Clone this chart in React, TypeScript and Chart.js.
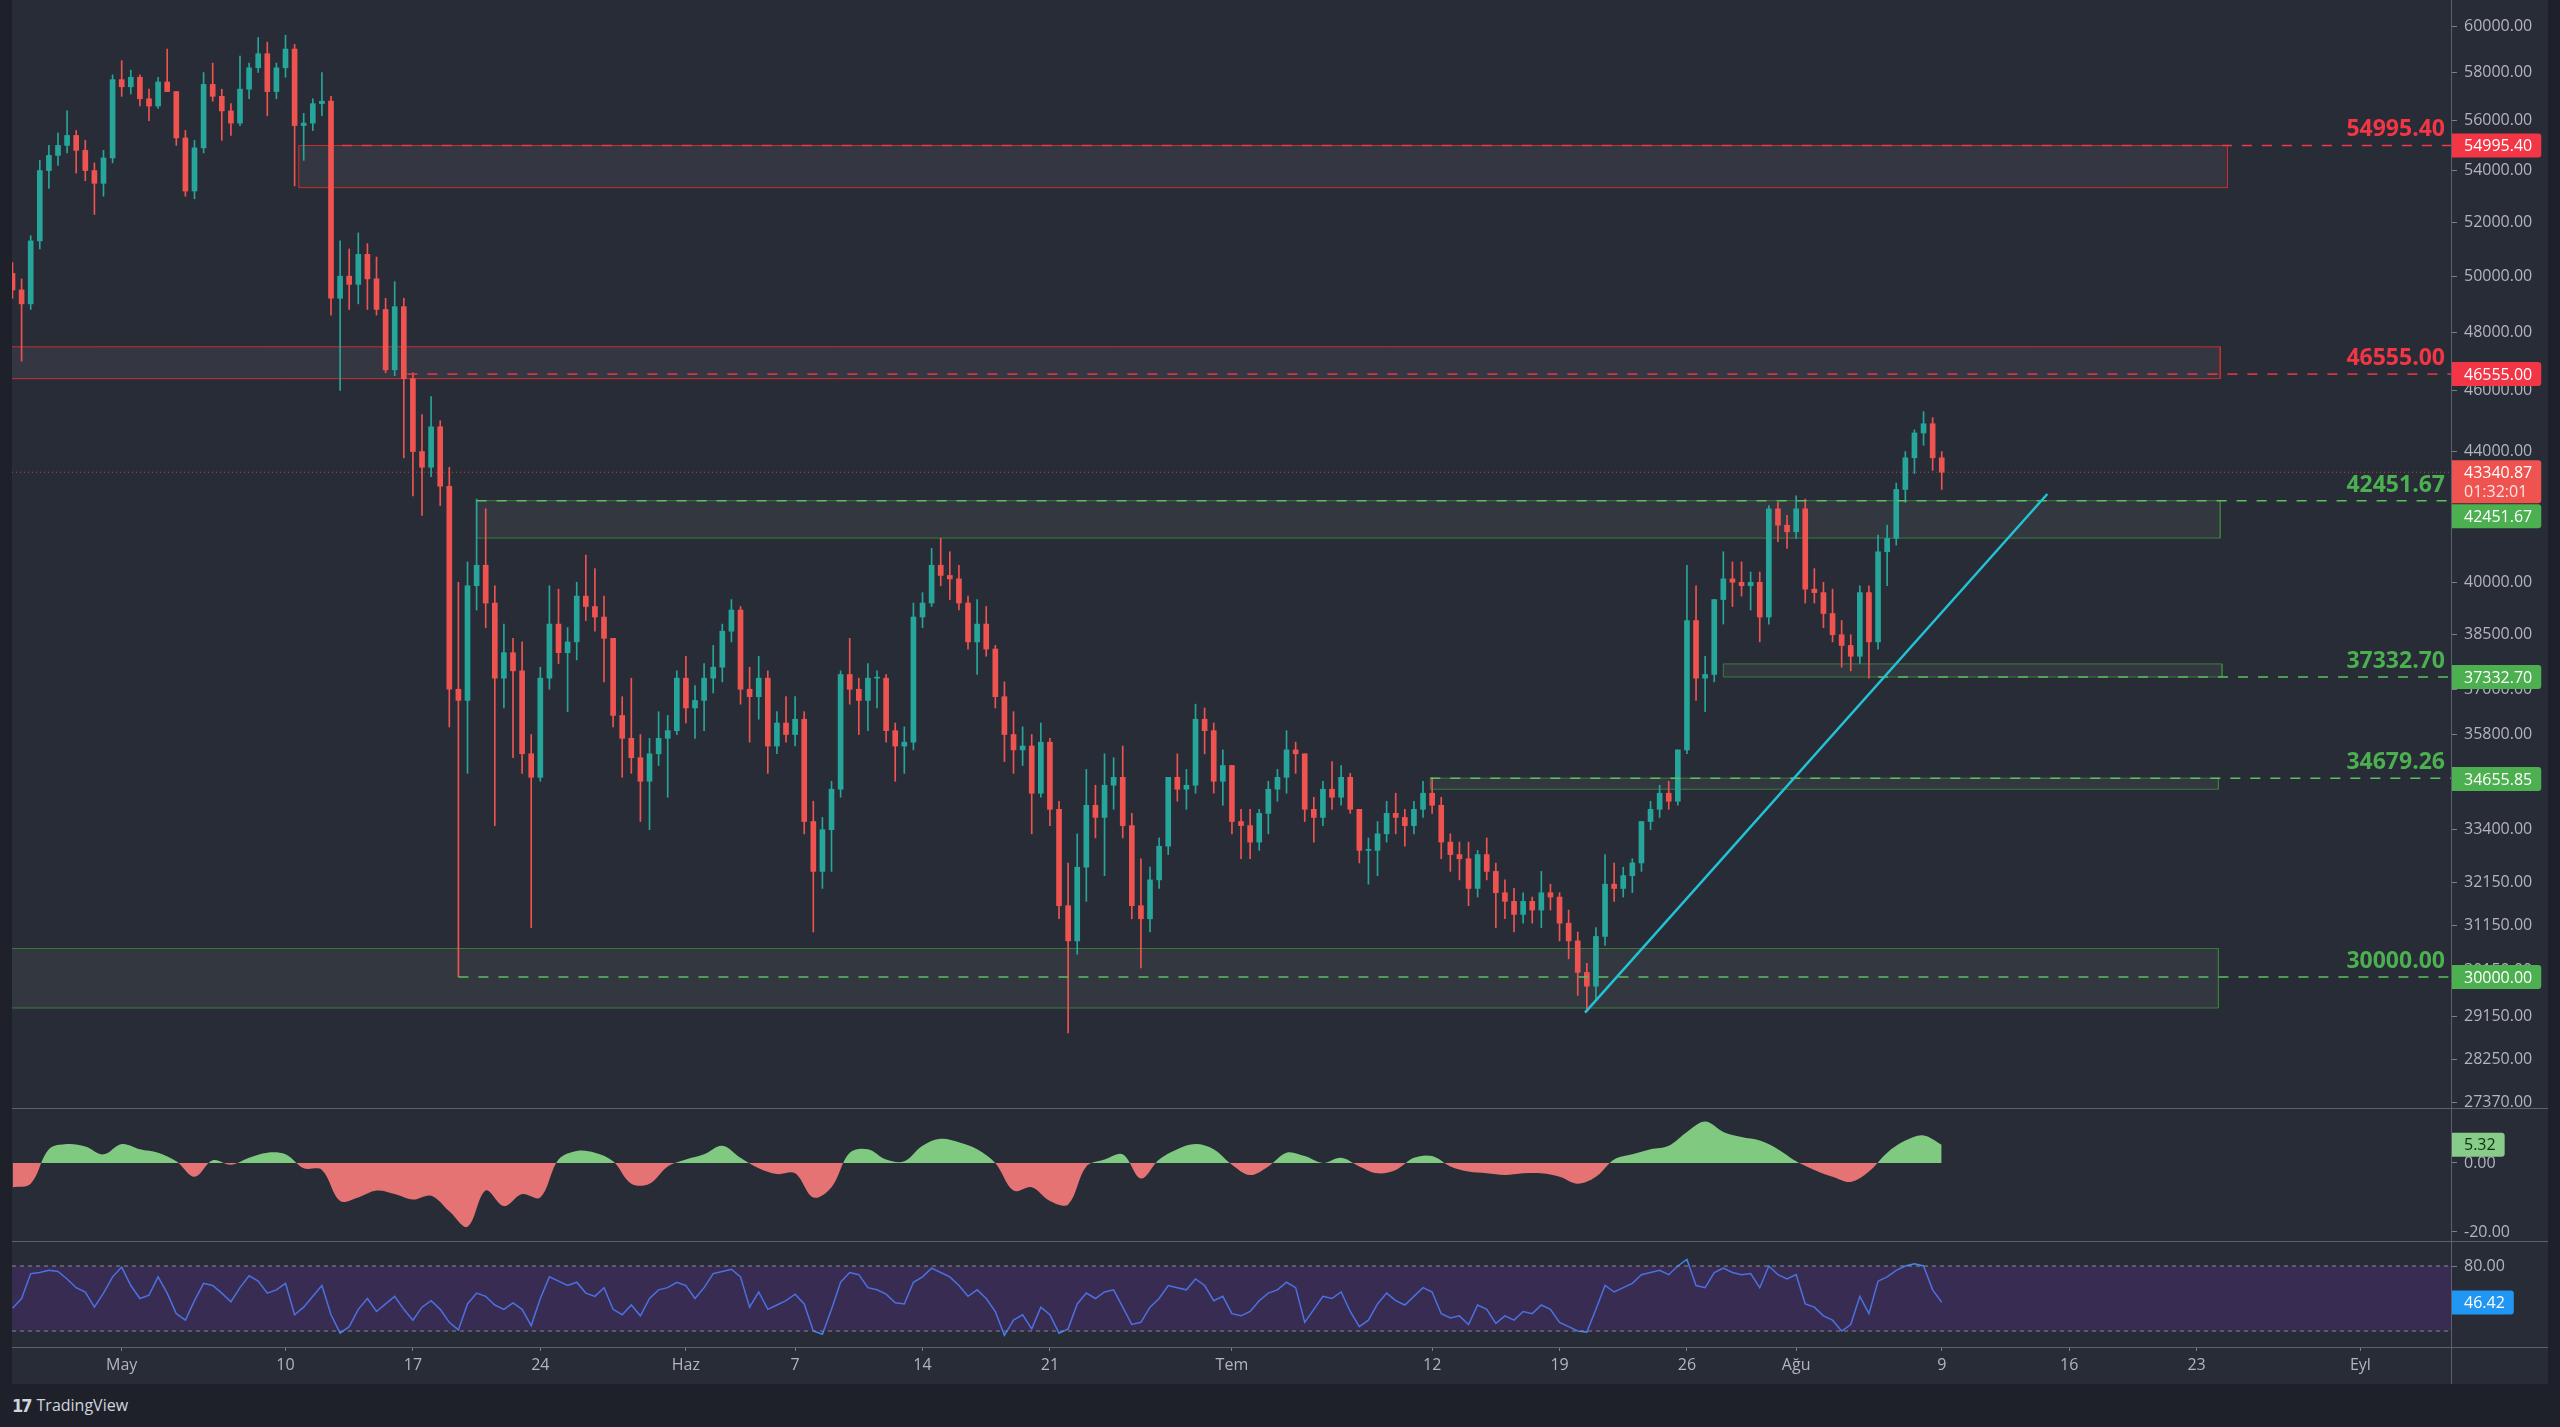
import React, { useEffect, useRef } from "react";
import { Chart, registerables } from "chart.js";

Chart.register(...registerables);

const FONT = "'Open Sans', 'Noto Sans', sans-serif";
Chart.defaults.font.family = FONT;

// ================= DATA =================
// Time unit: days relative to 1 May 2021 (0 = May 1). Bars are 12-hour candles from 25 Apr.
const FIRST_BAR_DAY = -6;
const BAR_STEP_DAYS = 0.5;

const OPENS = [
  50100, 49500, 49000, 51300, 54000, 54600, 55000, 55400, 54800, 54000, 53500, 54500,
  57700, 57400, 57800, 56900, 56600, 57600, 57200, 55300, 53200, 54900, 57500, 57000,
  56400, 55900, 57300, 58200, 58800, 57200, 58200, 59000, 55800, 55900, 56700, 56800,
  49200, 50000, 49700, 50800, 49900, 48800, 46700, 48900, 46400, 44000, 43500, 44800,
  42900, 37000, 36700, 39900, 40500, 39400, 37300, 38000, 37500, 35300, 34700, 37300,
  38800, 38000, 38300, 39600, 39300, 39000, 38400, 36300, 35700, 35200, 34600, 35300,
  35700, 35900, 37300, 36500, 36700, 37300, 37600, 38600, 39200, 37000, 36800, 37300,
  35500, 36100, 35800, 36200, 33600, 32400, 33400, 34400, 37400, 37000, 36700, 37300,
  37300, 35900, 35500, 35600, 39000, 39400, 40500, 40200, 40100, 39400, 38300, 38800,
  38100, 36800, 35800, 35400, 35500, 34300, 35600, 33900, 31600, 30800, 32500, 34000,
  33700, 34500, 34700, 33500, 31600, 31300, 32200, 33000, 34700, 34400, 34500, 36200,
  35900, 34600, 35000, 33600, 33500, 33100, 33800, 34400, 34700, 35400, 35300, 33900,
  33700, 34400, 34200, 34700, 33900, 32900, 32900, 33300, 33800, 33700, 33500, 33900,
  34300, 34000, 33100, 32800, 32700, 32000, 32800, 32400, 31900, 31700, 31400, 31700,
  31500, 31900, 31800, 31200, 30800, 30100, 29800, 30900, 32100, 32000, 32300, 32600,
  33600, 33900, 34300, 34100, 35400, 38900, 37300, 37400, 39500, 40100, 40000, 39900,
  40000, 39000, 42200, 41700, 41500, 42200, 39800, 39700, 39100, 38500, 38200, 37900,
  39700, 38300, 40900, 41300, 42800, 43800, 44600, 44900, 43800,
];
const HIGHS = [
  50500, 49900, 51500, 54400, 55000, 55500, 56400, 55600, 55200, 54300, 54800, 57900,
  58500, 58100, 57900, 57300, 57800, 59000, 57200, 55600, 55200, 58000, 58400, 57300,
  56700, 58700, 58400, 59500, 59300, 58400, 59600, 59200, 56300, 56900, 58000, 57000,
  51300, 51000, 51600, 51200, 50700, 49200, 49800, 49200, 46600, 45200, 45800, 45000,
  43500, 40000, 40600, 42500, 42200, 39900, 38800, 38400, 38300, 35800, 37600, 39900,
  39800, 38700, 40000, 40800, 40400, 39600, 38400, 36800, 37300, 35800, 35700, 36400,
  36300, 37500, 37900, 37100, 37700, 38200, 38800, 39500, 39300, 37600, 37900, 37500,
  36400, 36800, 36800, 36400, 34100, 33700, 34600, 37500, 38400, 37300, 37700, 37500,
  37400, 36100, 36000, 39400, 39700, 41000, 41300, 40900, 40500, 39600, 39500, 39300,
  38200, 37200, 36400, 36000, 35800, 36100, 35700, 34100, 32600, 33300, 34900, 34500,
  35300, 35200, 35500, 33800, 32700, 32500, 33200, 34700, 35300, 34900, 36600, 36500,
  36100, 35400, 35000, 33900, 33900, 33900, 34600, 34900, 35900, 35600, 35300, 34200,
  34600, 35100, 35000, 34800, 33900, 33200, 33600, 34100, 34300, 33900, 34100, 34600,
  34700, 34200, 33300, 33100, 33100, 32900, 33200, 32600, 32200, 32000, 31900, 31800,
  32400, 32100, 31900, 31500, 31000, 30300, 31100, 32800, 32600, 32500, 32700, 33600,
  34100, 34500, 34600, 35400, 40500, 39900, 37900, 39500, 40900, 40600, 40600, 40300,
  40300, 42300, 42400, 42000, 42600, 42500, 40400, 40000, 39800, 38900, 38500, 39900,
  39900, 41400, 41700, 43000, 44000, 44700, 45300, 45100, 44000,
];
const LOWS = [
  49200, 47000, 48800, 51000, 53300, 54200, 54700, 53900, 53600, 52300, 53000, 54300,
  57000, 57100, 56600, 56000, 56500, 57200, 55000, 53000, 52900, 54700, 56800, 55200,
  55400, 55800, 56900, 58000, 56200, 56900, 57800, 53400, 54400, 55600, 56200, 48600,
  46000, 48800, 49000, 48800, 48600, 46600, 46500, 43800, 42600, 42000, 43200, 42300,
  36000, 30000, 34800, 39200, 38700, 33500, 36500, 35200, 34800, 31100, 34600, 37000,
  37700, 36400, 37800, 38900, 38600, 37200, 36000, 34700, 34800, 33600, 33400, 35000,
  34200, 35800, 36100, 35700, 35900, 36900, 37200, 38300, 36600, 35600, 36200, 34800,
  35300, 35600, 35500, 33300, 31000, 32000, 32400, 34200, 36600, 35800, 35900, 36500,
  35600, 34600, 34800, 35400, 38700, 39300, 39900, 39500, 39200, 38100, 37400, 37900,
  36500, 35100, 34800, 35000, 33300, 34200, 33500, 31300, 28800, 30500, 31700, 33200,
  32300, 33900, 33200, 31300, 30200, 31000, 32000, 32800, 34100, 33900, 34300, 35300,
  34300, 34000, 33300, 32700, 32700, 32900, 33300, 34100, 34300, 34800, 33600, 33100,
  33500, 33900, 34000, 33800, 32600, 32100, 32300, 33100, 33300, 33000, 33300, 33700,
  33800, 32700, 32400, 32200, 31600, 31800, 32200, 31100, 31300, 31000, 31200, 31200,
  31100, 31500, 30800, 30400, 29600, 29300, 29500, 30700, 31700, 31800, 31900, 32400,
  33400, 33700, 33900, 34000, 35300, 36700, 36400, 37200, 38800, 39300, 39600, 39200,
  38300, 38800, 41200, 41000, 41300, 39400, 39400, 38700, 38300, 37600, 37500, 37700,
  37300, 38100, 39900, 41100, 42400, 43300, 44200, 43400, 42800,
];
const CLOSES = [
  49500, 49000, 51300, 54000, 54600, 55000, 55400, 54800, 54000, 53500, 54500, 57700,
  57400, 57800, 56900, 56600, 57600, 57200, 55300, 53200, 54900, 57500, 57000, 56400,
  55900, 57300, 58200, 58800, 57200, 58200, 59000, 55800, 55900, 56700, 56800, 49200,
  50000, 49700, 50800, 49900, 48800, 46700, 48900, 46400, 44000, 43500, 44800, 42900,
  37000, 36700, 39900, 40500, 39400, 37300, 38000, 37500, 35300, 34700, 37300, 38800,
  38000, 38300, 39600, 39300, 39000, 38400, 36300, 35700, 35200, 34600, 35300, 35700,
  35900, 37300, 36500, 36700, 37300, 37600, 38600, 39200, 37000, 36800, 37300, 35500,
  36100, 35800, 36200, 33600, 32400, 33400, 34400, 37400, 37000, 36700, 37300, 37300,
  35900, 35500, 35600, 39000, 39400, 40500, 40200, 40100, 39400, 38300, 38800, 38100,
  36800, 35800, 35400, 35500, 34300, 35600, 33900, 31600, 30800, 32500, 34000, 33700,
  34500, 34700, 33500, 31600, 31300, 32200, 33000, 34700, 34400, 34500, 36200, 35900,
  34600, 35000, 33600, 33500, 33100, 33800, 34400, 34700, 35400, 35300, 33900, 33700,
  34400, 34200, 34700, 33900, 32900, 32900, 33300, 33800, 33700, 33500, 33900, 34300,
  34000, 33100, 32800, 32700, 32000, 32800, 32400, 31900, 31700, 31400, 31700, 31500,
  31900, 31800, 31200, 30800, 30100, 29800, 30900, 32100, 32000, 32300, 32600, 33600,
  33900, 34300, 34100, 35400, 38900, 37300, 37400, 39500, 40100, 40000, 39900, 40000,
  39000, 42200, 41700, 41500, 42200, 39800, 39700, 39100, 38500, 38200, 37900, 39700,
  38300, 40900, 41300, 42800, 43800, 44600, 44900, 43800, 43340.87,
];

// Oscillator pane: one value per day from day -6 (25 Apr) to day 100 (9 Aug)
const OSC_FIRST_DAY = -6;
const OSC_VALUES = [
  -7, -6, 4, 5.5, 4.8, 2.5, 5.5, 4, 3, 0.5, -4, 0.8, -0.5, 1.5, 3, 2.5, -1.5, -2,
  -11, -10, -8, -9, -10.6, -9.5, -14, -18.5, -8, -12.5, -9, -10, 1, 3.5, 3, 0.5,
  -6, -6, -1, 1, 2.5, 5, 1.5, -1.5, -3.2, -3, -10, -7, 3, 4, 1, 0.5, 5, 7, 6, 4, 0,
  -8, -7, -11, -12, -1, 1, 2.5, -4.5, 1, 4, 5.5, 4, -0.5, -3.5, -1, 3, 2, 0, 1.5,
  -1, -3, -2, 1.5, 2, -1, -2.5, -3, -3.5, -3, -3, -4, -6, -4, 1, 2.5, 4, 5, 9, 12,
  9, 7.5, 6.5, 4, 0.5, -2, -4, -5.5, -2.5, 3, 6.5, 8, 5.32,
];

// RSI pane: one value per 12-hour bar (same bars as the candles)
const RSI_VALUES = [
  41, 50, 73, 74, 76, 75, 68, 60, 56, 42, 55, 70, 79, 62, 50, 53, 70, 55, 36, 30,
  48, 64, 62, 55, 47, 60, 71, 66, 55, 58, 64, 35, 42, 52, 62, 35, 18, 24, 40, 50,
  38, 45, 52, 40, 30, 42, 48, 40, 28, 21, 45, 55, 52, 44, 40, 46, 40, 25, 50, 70,
  66, 62, 65, 55, 52, 60, 40, 35, 44, 34, 50, 58, 60, 65, 62, 50, 60, 73, 75, 77,
  70, 42, 56, 40, 44, 48, 54, 45, 20, 17, 40, 65, 74, 72, 60, 58, 54, 46,
  45, 65, 70, 78, 74, 70, 62, 52, 58, 50, 38, 16, 30, 35, 22, 42, 35, 18, 22, 45,
  55, 50, 56, 58, 42, 26, 28, 42, 50, 62, 60, 58, 68, 62, 48, 52, 36, 34, 38, 48,
  55, 58, 65, 60, 28, 40, 52, 50, 56, 38, 24, 30, 45, 55, 48, 44, 52, 60, 56, 36,
  32, 34, 26, 44, 40, 27, 34, 30, 38, 36, 44, 40, 28, 24, 20, 19, 40, 62, 56, 60,
  64, 72, 74, 76, 72, 80, 86, 62, 60, 74, 78, 74, 72, 73, 60, 80, 72, 68, 72, 45,
  42, 34, 30, 20, 26, 52, 36, 66, 70, 76, 80, 82, 80, 58, 46.42,
];

const PRICE_TICKS = [
  60000, 58000, 56000, 54000, 52000, 50000, 48000, 46000, 44000, 42000, 40000, 38500,
  37000, 35800, 34600, 33400, 32150, 31150, 30150, 29150, 28250, 27370,
];
const OSC_TICKS = [0, -20];
const RSI_TICKS = [80];
const RSI_BAND = [80, 20];

const TIME_TICKS = [0, 9, 16, 23, 31, 37, 44, 51, 61, 72, 79, 86, 92, 100, 107, 114, 123];
const TIME_LABELS = ["May", "10", "17", "24", "Haz", "7", "14", "21", "Tem", "12", "19", "26", "Ağu", "9", "16", "23", "Eyl"];

// Visible ranges
const X_MIN = -6.027;
const X_MAX = 127.98;
const PRICE_MIN = 27248;
const PRICE_MAX = 61148;
const OSC_MIN = -22.61;
const OSC_MAX = 15.65;
const RSI_MIN = 5.23;
const RSI_MAX = 103.08;

// Supply / demand zones
const ZONE_START = [9.73, -7, 19.5, 88.0, 71.9, -7];
const ZONE_END = [115.7, 115.3, 115.3, 115.4, 115.2, 115.2];
const ZONE_TOP = [54995.4, 47490, 42451.67, 37690, 34679.26, 30630];
const ZONE_BOTTOM = [53330, 46400, 41310, 37332.7, 34400, 29330];
const ZONE_SIDE = ["sell", "sell", "buy", "buy", "buy", "buy"];

// Dashed level lines with their labels
const LEVEL_PRICES = [54995.4, 46555, 42451.67, 37332.7, 34679.26, 30000];
const LEVEL_FROM = [12.1, 15.7, 19.5, 96.5, 71.9, 18.5];
const LEVEL_TEXT = ["54995.40", "46555.00", "42451.67", "37332.70", "34679.26", "30000.00"];
const LEVEL_SIDE = ["sell", "sell", "buy", "buy", "buy", "buy"];

// Price-axis tags
const TAG_VALUES = [54995.4, 46555, 43340.87, 42451.67, 37332.7, 34655.85, 30000];
const TAG_TEXT = ["54995.40", "46555.00", "43340.87", "42451.67", "37332.70", "34655.85", "30000.00"];
const TAG_KIND = ["sell", "sell", "last", "buy", "buy", "buy", "buy"];
const COUNTDOWN = "01:32:01";
const LAST_PRICE = 43340.87;

// Trend line (day, price)
const TREND_DAYS = [80.4, 105.8];
const TREND_PRICES = [29230, 42660];

// ================= STYLE =================
const OUTER_BG = "#1e212a";
const PANE_BG = "#282c37";
const UP = "#26a69a";
const DOWN = "#ef5350";
const SELL = "#f23645";
const BUY = "#4caf50";
const LAST = "#ef5350";
const SELL_EDGE = "#c9302c";
const BUY_EDGE = "#3a7d3d";
const SELL_FILL = "rgba(140, 125, 150, 0.13)";
const BUY_FILL = "rgba(125, 140, 135, 0.12)";
const AXIS_TEXT = "#b2b5be";
const AXIS_LINE = "#5d606b";
const TICK_MARK = "#7b7e88";
const OSC_UP = "#7fc980";
const OSC_DOWN = "#e57373";
const RSI_LINE = "#3f86f2";
const RSI_FILL = "rgba(112, 48, 170, 0.24)";
const RSI_DASH = "#8a8d97";

const AXIS_W = 97;

function xAxis(display: boolean): any {
  return {
    type: "linear",
    min: X_MIN,
    max: X_MAX,
    bounds: "data",
    offset: false,
    display,
    position: "bottom",
    afterBuildTicks: (s: any) => {
      s.ticks = TIME_TICKS.map((v) => ({ value: v }));
    },
    afterFit: (s: any) => {
      s.height = display ? 37 : 0;
      s.paddingLeft = 0;
      s.paddingRight = 0;
    },
    ticks: {
      autoSkip: false,
      maxRotation: 0,
      color: AXIS_TEXT,
      font: { size: 16, family: FONT },
      padding: 5,
      callback: (v: any) => TIME_LABELS[TIME_TICKS.indexOf(Number(v))] ?? "",
    },
    grid: { drawOnChartArea: false, drawTicks: true, tickLength: 4, color: TICK_MARK, offset: false },
    border: { display: false },
  };
}

function yAxis(type: string, min: number, max: number, ticks: number[]): any {
  return {
    type,
    position: "right",
    min,
    max,
    bounds: "data",
    afterBuildTicks: (s: any) => {
      s.ticks = ticks.map((v) => ({ value: v }));
    },
    afterFit: (s: any) => {
      s.width = AXIS_W;
      s.paddingTop = 0;
      s.paddingBottom = 0;
    },
    ticks: {
      autoSkip: false,
      color: AXIS_TEXT,
      font: { size: 16, family: FONT },
      padding: 7,
      callback: (v: any) => Number(v).toFixed(2),
    },
    grid: { drawOnChartArea: false, drawTicks: true, tickLength: 6, color: TICK_MARK },
    border: { display: false },
  };
}

function baseOptions(scales: any): any {
  return {
    responsive: false,
    maintainAspectRatio: false,
    devicePixelRatio: 1,
    animation: false,
    events: [],
    layout: { padding: 0, autoPadding: false },
    plugins: { legend: { display: false }, tooltip: { enabled: false } },
    scales,
  };
}

function roundRight(ctx: CanvasRenderingContext2D, x: number, y: number, w: number, h: number, r: number) {
  ctx.beginPath();
  ctx.moveTo(x, y);
  ctx.lineTo(x + w - r, y);
  ctx.quadraticCurveTo(x + w, y, x + w, y + r);
  ctx.lineTo(x + w, y + h - r);
  ctx.quadraticCurveTo(x + w, y + h, x + w - r, y + h);
  ctx.lineTo(x, y + h);
  ctx.closePath();
  ctx.fill();
}

function drawTag(chart: any, value: number, text: string, bg: string, fg: string) {
  const { ctx, chartArea, scales } = chart;
  const cy = scales.y.getPixelForValue(value);
  ctx.save();
  ctx.font = `16px ${FONT}`;
  const w = ctx.measureText(text).width + 22;
  ctx.fillStyle = bg;
  roundRight(ctx, chartArea.right, cy - 12, w, 24, 3);
  ctx.fillStyle = fg;
  ctx.textAlign = "left";
  ctx.textBaseline = "middle";
  ctx.fillText(text, chartArea.right + 13, cy + 1);
  ctx.restore();
}

const mainOverlay = {
  id: "mainOverlay",
  afterDatasetsDraw(chart: any) {
    const { ctx, chartArea, scales } = chart;
    ctx.save();
    ctx.font = `bold 23px ${FONT}`;
    ctx.textAlign = "right";
    ctx.textBaseline = "alphabetic";
    LEVEL_PRICES.forEach((p, k) => {
      ctx.fillStyle = LEVEL_SIDE[k] === "sell" ? SELL : BUY;
      ctx.fillText(LEVEL_TEXT[k], chartArea.right - 6, scales.y.getPixelForValue(p) - 9);
    });
    ctx.restore();
  },
  afterDraw(chart: any) {
    const { ctx, chartArea, scales } = chart;
    ctx.save();
    ctx.font = `16px ${FONT}`;
    ctx.textAlign = "left";
    ctx.textBaseline = "middle";
    let prevBottom = -Infinity;
    TAG_VALUES.forEach((v, k) => {
      const kind = TAG_KIND[k];
      const cy = scales.y.getPixelForValue(v);
      const h = kind === "last" ? 43 : 24;
      let top = cy - 12;
      if (top < prevBottom + 1) top = prevBottom + 1;
      const w = ctx.measureText(TAG_TEXT[k]).width + 22;
      ctx.fillStyle = kind === "sell" ? SELL : kind === "buy" ? BUY : LAST;
      roundRight(ctx, chartArea.right, top, w, h, 3);
      ctx.fillStyle = "#ffffff";
      ctx.fillText(TAG_TEXT[k], chartArea.right + 13, top + 13);
      if (kind === "last") {
        ctx.fillStyle = "rgba(255,255,255,0.85)";
        ctx.fillText(COUNTDOWN, chartArea.right + 13, top + 32);
      }
      prevBottom = top + h;
    });
    ctx.restore();
  },
};

const oscOverlay = {
  id: "oscOverlay",
  afterDraw(chart: any) {
    const v = OSC_VALUES[OSC_VALUES.length - 1];
    drawTag(chart, v, v.toFixed(2), "#87cc89", "#10300f");
  },
};

const rsiOverlay = {
  id: "rsiOverlay",
  afterDraw(chart: any) {
    const v = RSI_VALUES[RSI_VALUES.length - 1];
    drawTag(chart, v, v.toFixed(2), "#2196f3", "#ffffff");
  },
};

function mainConfig(): any {
  const barX = OPENS.map((_, i) => FIRST_BAR_DAY + i * BAR_STEP_DAYS);
  const colors = OPENS.map((o, i) => (CLOSES[i] >= o ? UP : DOWN));
  const datasets: any[] = [];

  ZONE_START.forEach((x1, k) => {
    const x2 = ZONE_END[k];
    const top = ZONE_TOP[k];
    const bottom = ZONE_BOTTOM[k];
    const sell = ZONE_SIDE[k] === "sell";
    datasets.push({
      type: "line",
      data: [{ x: x1, y: top }, { x: x2, y: top }],
      borderWidth: 0,
      borderColor: "rgba(0,0,0,0)",
      pointRadius: 0,
      tension: 0,
      fill: { value: bottom },
      backgroundColor: sell ? SELL_FILL : BUY_FILL,
      order: 30,
    });
    datasets.push({
      type: "line",
      data: [
        { x: x1, y: top },
        { x: x2, y: top },
        { x: x2, y: bottom },
        { x: x1, y: bottom },
        { x: x1, y: top },
      ],
      borderColor: sell ? SELL_EDGE : BUY_EDGE,
      borderWidth: 1,
      pointRadius: 0,
      tension: 0,
      fill: false,
      order: 29,
    });
  });

  datasets.push({
    type: "bar",
    data: LOWS.map((l, i) => ({ x: barX[i], y: [l, HIGHS[i]] })),
    backgroundColor: colors,
    borderWidth: 0,
    barThickness: 1,
    grouped: false,
    order: 5,
  });
  datasets.push({
    type: "bar",
    data: OPENS.map((o, i) => ({ x: barX[i], y: [o, CLOSES[i]] })),
    backgroundColor: colors,
    borderWidth: 0,
    barThickness: 5,
    minBarLength: 1,
    grouped: false,
    order: 4,
  });

  LEVEL_PRICES.forEach((p, k) => {
    datasets.push({
      type: "line",
      data: [{ x: LEVEL_FROM[k], y: p }, { x: X_MAX, y: p }],
      borderColor: LEVEL_SIDE[k] === "sell" ? SELL : "#5cbf60",
      borderWidth: 1.5,
      borderDash: [10, 10],
      pointRadius: 0,
      fill: false,
      order: 3,
    });
  });

  datasets.push({
    type: "line",
    data: [{ x: X_MIN, y: LAST_PRICE }, { x: X_MAX, y: LAST_PRICE }],
    borderColor: "rgba(239,83,80,0.75)",
    borderWidth: 1,
    borderDash: [1, 3],
    pointRadius: 0,
    fill: false,
    order: 2,
  });

  datasets.push({
    type: "line",
    data: TREND_DAYS.map((d, i) => ({ x: d, y: TREND_PRICES[i] })),
    borderColor: "#22c3d6",
    borderWidth: 2.5,
    pointRadius: 0,
    fill: false,
    order: 1,
  });

  return {
    type: "bar",
    data: { datasets },
    options: baseOptions({
      x: xAxis(false),
      y: yAxis("logarithmic", PRICE_MIN, PRICE_MAX, PRICE_TICKS),
    }),
    plugins: [mainOverlay],
  };
}

function oscConfig(): any {
  return {
    type: "line",
    data: {
      datasets: [
        {
          data: OSC_VALUES.map((v, i) => ({ x: OSC_FIRST_DAY + i, y: v })),
          borderWidth: 0,
          borderColor: "rgba(0,0,0,0)",
          pointRadius: 0,
          tension: 0.35,
          fill: { target: "origin", above: OSC_UP, below: OSC_DOWN },
        },
      ],
    },
    options: baseOptions({
      x: xAxis(false),
      y: yAxis("linear", OSC_MIN, OSC_MAX, OSC_TICKS),
    }),
    plugins: [oscOverlay],
  };
}

function rsiConfig(): any {
  return {
    type: "line",
    data: {
      datasets: [
        {
          data: [{ x: X_MIN, y: RSI_BAND[0] }, { x: X_MAX, y: RSI_BAND[0] }],
          borderColor: RSI_DASH,
          borderWidth: 1,
          borderDash: [4, 4],
          pointRadius: 0,
          fill: 1,
          backgroundColor: RSI_FILL,
        },
        {
          data: [{ x: X_MIN, y: RSI_BAND[1] }, { x: X_MAX, y: RSI_BAND[1] }],
          borderColor: RSI_DASH,
          borderWidth: 1,
          borderDash: [4, 4],
          pointRadius: 0,
          fill: false,
        },
        {
          data: RSI_VALUES.map((v, i) => ({ x: FIRST_BAR_DAY + i * BAR_STEP_DAYS, y: v })),
          borderColor: RSI_LINE,
          borderWidth: 1.5,
          pointRadius: 0,
          tension: 0,
          fill: false,
        },
      ],
    },
    options: baseOptions({
      x: xAxis(true),
      y: yAxis("linear", RSI_MIN, RSI_MAX, RSI_TICKS),
    }),
    plugins: [rsiOverlay],
  };
}

function ChartCanvas(props: { make: () => any; left: number; top: number; width: number; height: number }) {
  const ref = useRef<HTMLCanvasElement | null>(null);
  useEffect(() => {
    if (!ref.current) return;
    const chart = new Chart(ref.current, props.make());
    return () => chart.destroy();
  }, []);
  return (
    <canvas
      ref={ref}
      width={props.width}
      height={props.height}
      style={{ position: "absolute", left: props.left, top: props.top, width: props.width, height: props.height }}
    />
  );
}

export default function App() {
  const sep = (top: number) => (
    <div style={{ position: "absolute", left: 12, top, width: 2536, height: 1, background: AXIS_LINE }} />
  );
  return (
    <div style={{ position: "fixed", left: 0, top: 0, width: 2560, height: 1427, background: OUTER_BG, overflow: "hidden" }}>
      <div style={{ position: "absolute", left: 12, top: 0, width: 2536, height: 1384, background: PANE_BG }} />
      <ChartCanvas make={mainConfig} left={12} top={0} width={2536} height={1109} />
      <ChartCanvas make={oscConfig} left={12} top={1109} width={2536} height={132} />
      <ChartCanvas make={rsiConfig} left={12} top={1241} width={2536} height={143} />
      {sep(1108)}
      {sep(1241)}
      {sep(1347)}
      <div style={{ position: "absolute", left: 2451, top: 0, width: 1, height: 1384, background: AXIS_LINE }} />
      <div
        style={{
          position: "absolute",
          left: 12,
          top: 1393,
          height: 24,
          display: "flex",
          alignItems: "center",
          gap: 6,
          color: "#d1d4dc",
          fontFamily: FONT,
        }}
      >
        <span style={{ fontWeight: 900, fontSize: 18, letterSpacing: -2, fontFamily: "'DejaVu Sans Condensed', sans-serif" }}>17</span>
        <span style={{ fontSize: 16 }}>TradingView</span>
      </div>
    </div>
  );
}
